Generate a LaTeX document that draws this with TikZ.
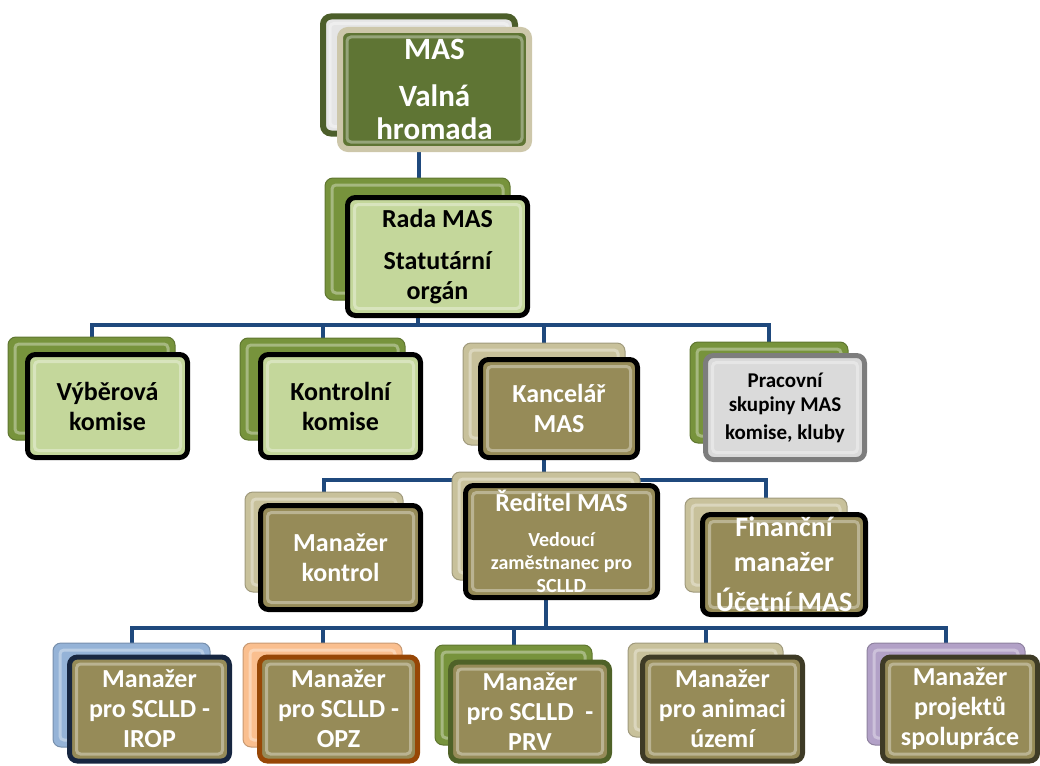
\documentclass[tikz,border=0pt]{standalone}
\usepackage{fontspec}
\setmainfont{Carlito}
\usepackage{tikz}
\usetikzlibrary{positioning, backgrounds, calc}

\definecolor{olivegreen}{RGB}{95,117,52}
\definecolor{leafgreen}{RGB}{119,147,60}
\definecolor{palegreen}{RGB}{196,215,155}
\definecolor{khaki}{RGB}{150,139,88}
\definecolor{tanback}{RGB}{200,193,155}
\definecolor{tanframe}{RGB}{205,199,170}
\definecolor{greyfill}{RGB}{218,218,218}
\definecolor{greyframe}{RGB}{125,125,125}
\definecolor{busblue}{RGB}{31,73,125}
\definecolor{skyback}{RGB}{149,179,215}
\definecolor{peachback}{RGB}{250,191,143}
\definecolor{lilacback}{RGB}{178,161,199}
\definecolor{navyframe}{RGB}{23,38,64}
\definecolor{rustframe}{RGB}{151,71,6}
\definecolor{mossframe}{RGB}{79,98,40}
\definecolor{darkframe}{RGB}{62,59,38}

\begin{document}
\begin{tikzpicture}[
    x=1pt, y=-1pt,
    bevel/.style={path picture={\draw[white, opacity=0.35, line width=3pt, rounded corners=4pt]
        ([shift={(7pt,-7pt)}]path picture bounding box.north west) rectangle
        ([shift={(-7pt,7pt)}]path picture bounding box.south east);}},
    backbox/.style={rectangle, rounded corners=8pt, fill=#1, draw=#1!80!black, line width=1pt, bevel},
    frontbox/.style={rectangle, rounded corners=8pt, line width=5pt, draw=#1, fill=khaki, bevel,
        inner sep=0pt, align=center, text=white, font=\fontsize{26}{30}\selectfont\bfseries},
    greenbox/.style={frontbox=black, fill=palegreen, text=black},
    conn/.style={draw=busblue, line width=4pt},
]
    \useasboundingbox (0,0) rectangle (1040,765);

    % Valna hromada
    \node (valnaB) [backbox=olivegreen, fill=white!90!black, line width=6pt, minimum width=192pt, minimum height=117pt] at (419,75) {};
    \node (valna) [frontbox=tanframe, fill=olivegreen, line width=6pt, minimum width=189pt, minimum height=119pt,
        font=\fontsize{31}{33}\selectfont\bfseries] at (434.5,89.5) {MAS\\[14pt]Valná\\hromada};

    % Rada
    \node (radaB) [backbox=leafgreen, minimum width=185pt, minimum height=122pt] at (417.5,239) {};
    \node (rada) [greenbox, minimum width=180pt, minimum height=118pt] at (437.5,256.5) {Rada MAS\\[12pt]Statutární\\orgán};

    % second row
    \node (vyberB) [backbox=leafgreen, minimum width=167pt, minimum height=103pt] at (91.5,388.5) {};
    \node (vyber) [greenbox, minimum width=160pt, minimum height=103pt] at (107.5,406) {Výběrová\\komise};
    \node (kontrB) [backbox=leafgreen, minimum width=165pt, minimum height=102pt] at (322.5,389) {};
    \node (kontr) [greenbox, minimum width=160pt, minimum height=103pt] at (340.5,406) {Kontrolní\\komise};
    \node (kancB) [backbox=tanback, minimum width=162pt, minimum height=102pt] at (544,394) {};
    \node (kanc) [frontbox=black, minimum width=157pt, minimum height=98pt] at (559,408.5) {Kancelář\\MAS};
    \node (pracB) [backbox=leafgreen, minimum width=158pt, minimum height=101pt] at (769,392.5) {};
    \node (prac) [frontbox=greyframe, fill=greyfill, text=black, minimum width=159pt, minimum height=104pt,
        font=\fontsize{21}{24}\selectfont\bfseries] at (785,407.5) {Pracovní\\skupiny MAS\\[4pt]komise, kluby};

    % third row
    \node (kontrolB) [backbox=tanback, minimum width=158pt, minimum height=100pt] at (324,542) {};
    \node (kontrol) [frontbox=black, minimum width=160pt, minimum height=104pt] at (340.5,557.5) {Manažer\\kontrol};
    \node (reditB) [backbox=tanback, minimum width=188pt, minimum height=108pt] at (546,526) {};
    \node (redit) [frontbox=black, minimum width=192pt, minimum height=112pt,
        font=\fontsize{20}{23}\selectfont\bfseries] at (561.5,541.5)
        {{\fontsize{26}{30}\selectfont Ředitel MAS}\\[12pt]Vedoucí\\zaměstnanec pro\\SCLLD};
    \node (financB) [backbox=tanback, minimum width=162pt, minimum height=94pt] at (766,545) {};
    \node (financ) [frontbox=black, minimum width=163pt, minimum height=100pt,
        font=\fontsize{28}{35}\selectfont\bfseries] at (784,564.5) {Finanční\\manažer\\[5pt]Účetní MAS};

    % managers
    \node (iropB) [backbox=skyback, minimum width=157pt, minimum height=104pt] at (131.5,695) {};
    \node (irop) [frontbox=navyframe, minimum width=160pt, minimum height=104pt] at (149.5,709) {Manažer\\pro SCLLD -\\IROP};
    \node (opzB) [backbox=peachback, minimum width=159pt, minimum height=104pt] at (322.5,695) {};
    \node (opz) [frontbox=rustframe, minimum width=158pt, minimum height=104pt] at (338.5,709) {Manažer\\pro SCLLD -\\OPZ};
    \node (prvB) [backbox=leafgreen, minimum width=157pt, minimum height=100pt] at (513.5,695) {};
    \node (prv) [frontbox=mossframe, minimum width=159pt, minimum height=99pt] at (530,711.5) {Manažer\\pro SCLLD\ \ -\\PRV};
    \node (animB) [backbox=tanback, minimum width=155pt, minimum height=94pt] at (705.5,690) {};
    \node (anim) [frontbox=darkframe, minimum width=160pt, minimum height=104pt] at (722.5,709) {Manažer\\pro animaci\\území};
    \node (spolB) [backbox=lilacback, minimum width=158pt, minimum height=102pt] at (946,694) {};
    \node (spol) [frontbox=darkframe, minimum width=155pt, minimum height=104pt] at (960,709) {Manažer\\projektů\\spolupráce};

    % connectors
    \coordinate (bus1) at (0,325);
    \coordinate (bus2) at (0,480);
    \coordinate (bus3) at (0,628);
    \begin{scope}[on background layer]
        \draw [conn] (valnaB.south) -- (valnaB.south |- radaB.north);
        \draw [conn] (radaB.south) -- (radaB.south |- bus1);
        \draw [conn] (vyberB.north) |- (pracB.north |- bus1) -- (pracB.north);
        \draw [conn] (kontrB.north) -- (kontrB.north |- bus1);
        \draw [conn] (kancB.north) -- (kancB.north |- bus1);
        \draw [conn] (kancB.south) -- (kancB.south |- reditB.north);
        \draw [conn] (kontrolB.north) |- (financB.north |- bus2) -- (financB.north);
        \draw [conn] (reditB.south) -- (reditB.south |- bus3);
        \draw [conn] (iropB.north) |- (spolB.north |- bus3) -- (spolB.north);
        \draw [conn] (opzB.north) -- (opzB.north |- bus3);
        \draw [conn] (prvB.north) -- (prvB.north |- bus3);
        \draw [conn] (animB.north) -- (animB.north |- bus3);
    \end{scope}
\end{tikzpicture}
\end{document}
